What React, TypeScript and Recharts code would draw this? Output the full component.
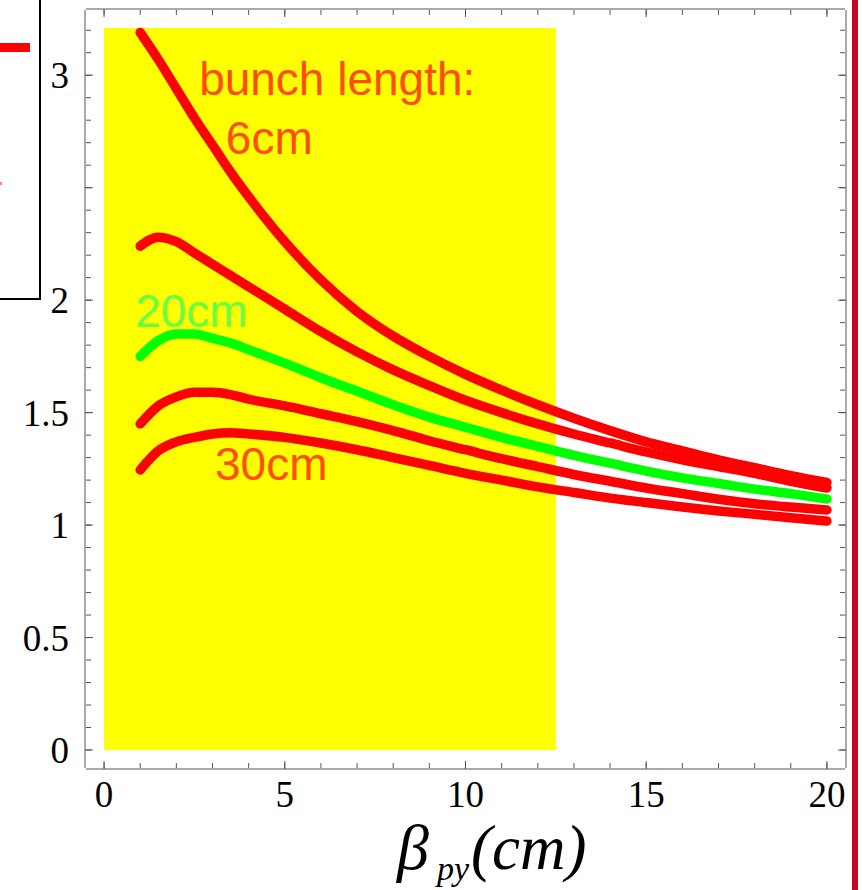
import React from 'react';
import {
  ComposedChart,
  Line,
  XAxis,
  YAxis,
  ReferenceArea,
  ReferenceDot,
} from 'recharts';

// beta_py sample points (cm)
const betaPy = [1, 1.5, 2, 2.5, 3, 3.5, 4, 5, 6, 7, 8, 9, 10, 11, 12, 13, 14, 15, 16, 17, 18, 19, 20];

// one curve per bunch length, top to bottom
const len6 = [3.19, 3.07, 2.94, 2.81, 2.69, 2.57, 2.46, 2.26, 2.09, 1.95, 1.84, 1.75, 1.67, 1.6, 1.535, 1.475, 1.42, 1.37, 1.33, 1.29, 1.255, 1.22, 1.19];
const len12 = [2.24, 2.28, 2.26, 2.21, 2.16, 2.11, 2.06, 1.96, 1.86, 1.77, 1.69, 1.62, 1.555, 1.5, 1.45, 1.405, 1.365, 1.325, 1.29, 1.26, 1.23, 1.195, 1.165];
const len20 = [1.75, 1.82, 1.85, 1.85, 1.83, 1.81, 1.78, 1.72, 1.655, 1.595, 1.535, 1.48, 1.435, 1.39, 1.35, 1.31, 1.275, 1.24, 1.21, 1.185, 1.16, 1.14, 1.116];
const len25 = [1.45, 1.53, 1.57, 1.59, 1.59, 1.58, 1.56, 1.53, 1.495, 1.46, 1.42, 1.375, 1.335, 1.295, 1.26, 1.225, 1.195, 1.165, 1.14, 1.115, 1.095, 1.08, 1.067];
const len30 = [1.245, 1.33, 1.37, 1.39, 1.405, 1.41, 1.405, 1.39, 1.365, 1.335, 1.3, 1.265, 1.23, 1.2, 1.17, 1.145, 1.12, 1.1, 1.08, 1.063, 1.048, 1.033, 1.018];

const xTicks = [0, 5, 10, 15, 20];
const yTicks = [0, 0.5, 1, 1.5, 2, 2.5, 3];
const xMinorTicks = Array.from({ length: 21 }, (_, i) => i);
const yMinorTicks = Array.from({ length: 33 }, (_, i) => i / 10);

const annotations = [
  { text: 'bunch length:', x: 2.63, y: 2.91, color: '#ff4d00' },
  { text: '6cm', x: 3.37, y: 2.65, color: '#ff4d00' },
  { text: '20cm', x: 0.86, y: 1.88, color: '#66ff44' },
  { text: '30cm', x: 3.07, y: 1.2, color: '#ff4d00' },
];

const rows = betaPy.map((x, i) => ({
  x,
  l6: len6[i],
  l12: len12[i],
  l20: len20[i],
  l25: len25[i],
  l30: len30[i],
}));

const FRAME = '#555';
const X_DOMAIN: [number, number] = [-0.5, 20.5];
const Y_DOMAIN: [number, number] = [-0.08, 3.29];
const tickFont = { fontFamily: '"Liberation Serif", "Times New Roman", serif', fontSize: 37, fill: '#000' };
const noLabel = () => '';

const renderAnnotation = (text: string, color: string) => (props: any) => {
  const { viewBox } = props;
  return (
    <text
      x={viewBox.x}
      y={viewBox.y}
      fill={color}
      fontSize={46}
      fontFamily='"Liberation Sans", Arial, sans-serif'
    >
      {text}
    </text>
  );
};

const renderAxisTitle = (props: any) => {
  const { viewBox } = props;
  const x = viewBox.x + 311;
  const y = viewBox.y + 100;
  return (
    <text x={x} y={y} fontFamily='"Liberation Serif", "Times New Roman", serif' fontStyle="italic" fill="#000">
      <tspan fontSize={64}>β</tspan>
      <tspan fontSize={34} dx={8} dy={11}>py</tspan>
      <tspan fontSize={63} dx={2} dy={-11}>(cm)</tspan>
    </text>
  );
};

const lineProps = {
  xAxisId: 'main',
  yAxisId: 'main',
  type: 'monotone' as const,
  dot: false,
  strokeWidth: 9.5,
  strokeLinecap: 'round' as const,
  isAnimationActive: false,
};

export default function App() {
  return (
    <div style={{ position: 'absolute', left: 0, top: 0, width: 863, height: 890, overflow: 'hidden', background: '#fff' }}>
      <ComposedChart width={863} height={890} data={rows} margin={{ top: 8, right: 16, bottom: 120, left: 84 }}>
        {/* bottom axis with labels, plus minor ticks */}
        <XAxis
          xAxisId="main"
          type="number"
          dataKey="x"
          domain={X_DOMAIN}
          allowDataOverflow
          ticks={xTicks}
          height={1}
          tickSize={-8}
          tickMargin={20}
          stroke={FRAME}
          tick={tickFont}
          label={{ content: renderAxisTitle }}
        />
        <XAxis xAxisId="bMinor" type="number" dataKey="x" domain={X_DOMAIN} allowDataOverflow ticks={xMinorTicks} height={1} tickSize={-5} tickFormatter={noLabel} axisLine={false} stroke={FRAME} />
        <XAxis xAxisId="top" orientation="top" type="number" dataKey="x" domain={X_DOMAIN} allowDataOverflow ticks={xTicks} height={1} tickSize={-8} tickFormatter={noLabel} stroke={FRAME} />
        <XAxis xAxisId="tMinor" orientation="top" type="number" dataKey="x" domain={X_DOMAIN} allowDataOverflow ticks={xMinorTicks} height={1} tickSize={-5} tickFormatter={noLabel} axisLine={false} stroke={FRAME} />

        <YAxis
          yAxisId="main"
          type="number"
          domain={Y_DOMAIN}
          allowDataOverflow
          ticks={yTicks}
          tickFormatter={(v: number) => (v === 2.5 ? '' : String(v))}
          width={1}
          tickSize={-8}
          tickMargin={24}
          stroke={FRAME}
          tick={tickFont}
        />
        <YAxis yAxisId="lMinor" type="number" domain={Y_DOMAIN} allowDataOverflow ticks={yMinorTicks} width={1} tickSize={-5} tickFormatter={noLabel} axisLine={false} stroke={FRAME} />
        <YAxis yAxisId="right" orientation="right" type="number" domain={Y_DOMAIN} allowDataOverflow ticks={yTicks} width={1} tickSize={-8} tickFormatter={noLabel} stroke={FRAME} />
        <YAxis yAxisId="rMinor" orientation="right" type="number" domain={Y_DOMAIN} allowDataOverflow ticks={yMinorTicks} width={1} tickSize={-5} tickFormatter={noLabel} axisLine={false} stroke={FRAME} />

        <ReferenceArea xAxisId="main" yAxisId="main" x1={0} x2={12.5} y1={0} y2={3.21} fill="#ffff00" fillOpacity={1} stroke="none" />

        <Line {...lineProps} dataKey="l6" stroke="#ff0000" />
        <Line {...lineProps} dataKey="l12" stroke="#ff0000" />
        <Line {...lineProps} dataKey="l25" stroke="#ff0000" />
        <Line {...lineProps} dataKey="l30" stroke="#ff0000" />
        <Line {...lineProps} dataKey="l20" stroke="#00ff00" />

        {annotations.map((a) => (
          <ReferenceDot
            key={a.text}
            xAxisId="main"
            yAxisId="main"
            x={a.x}
            y={a.y}
            r={0}
            fill="none"
            stroke="none"
            label={renderAnnotation(a.text, a.color)}
          />
        ))}
      </ComposedChart>

      {/* clipped legend box from the neighbouring panel */}
      <div style={{ position: 'absolute', left: -10, top: -10, width: 47, height: 306, border: '2px solid #000' }} />
      <div style={{ position: 'absolute', left: 0, top: 43, width: 30, height: 9, background: '#ff0000' }} />
      <div style={{ position: 'absolute', left: 0, top: 182, width: 2, height: 3, background: '#ff8080' }} />
      {/* page edge bar */}
      <div style={{ position: 'absolute', left: 852, top: 0, width: 6, height: 890, background: '#c10a1e' }} />
    </div>
  );
}
